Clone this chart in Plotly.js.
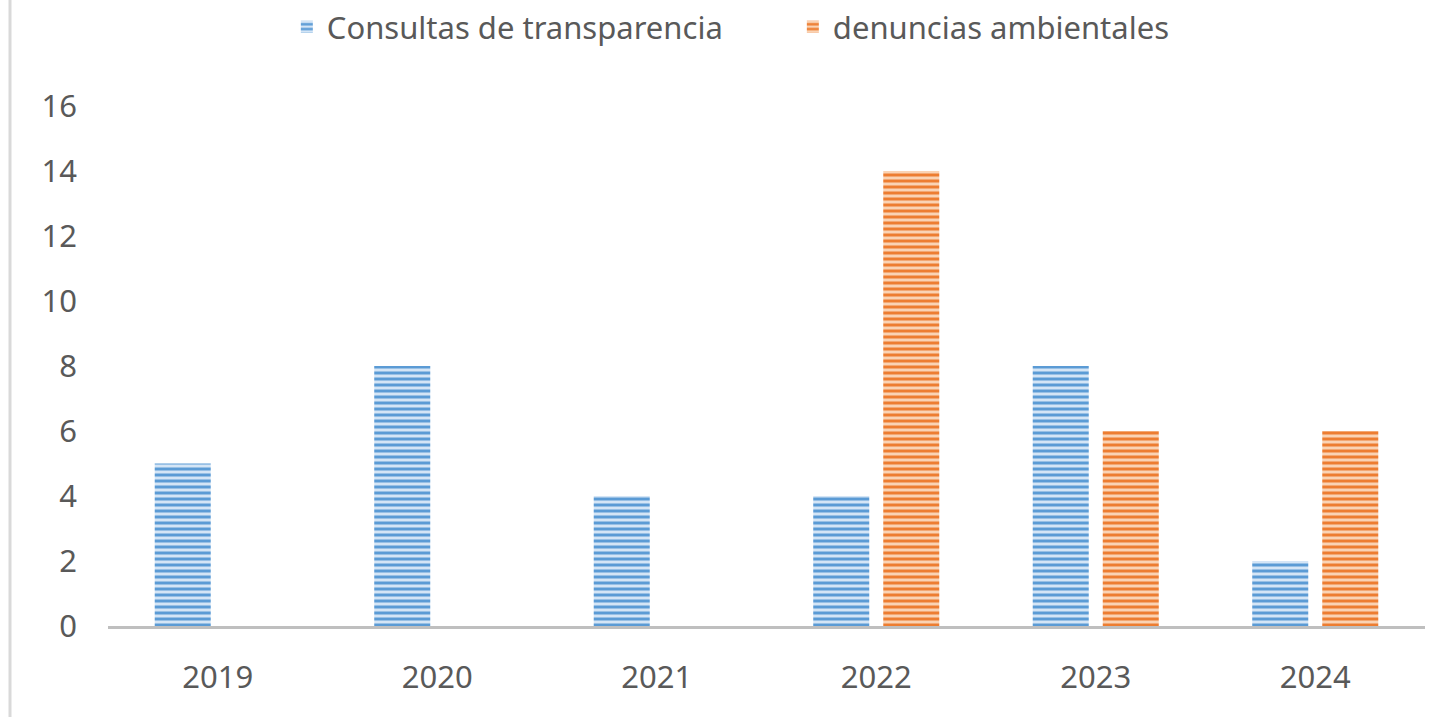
<!DOCTYPE html>
<html>
<head>
<meta charset="utf-8">
<script src="https://cdn.plot.ly/plotly-3.0.1.min.js"></script>
<style>
html,body{margin:0;padding:0;background:#fff;}
#chart{width:1456px;height:717px;}
</style>
</head>
<body>
<div id="chart"></div>
<script>
var years = ['2019','2020','2021','2022','2023','2024'];
var consultas = [5, 8, 4, 4, 8, 2];
var denuncias = [0, 0, 0, 14, 6, 6];
var yTicks = [0, 2, 4, 6, 8, 10, 12, 14, 16];

var traces = [
  {
    type: 'bar', name: 'Consultas de transparencia', x: years, y: consultas,
    marker: {
      color: '#c9def3',
      line: {width: 0},
      pattern: {shape: '-', fgcolor: '#5b9bd5', bgcolor: '#d4e5f6', size: 6, solidity: 0.5}
    },
    hoverinfo: 'x+y'
  },
  {
    type: 'bar', name: 'denuncias ambientales', x: years, y: denuncias,
    marker: {
      color: '#f8cba6',
      line: {width: 0},
      pattern: {shape: '-', fgcolor: '#ed7d31', bgcolor: '#fad3b4', size: 6, solidity: 0.5}
    },
    hoverinfo: 'x+y'
  }
];

var layout = {
  width: 1456, height: 717,
  margin: {l: 108, r: 31, t: 106, b: 91, autoexpand: false},
  paper_bgcolor: '#ffffff', plot_bgcolor: '#ffffff',
  font: {family: 'Noto Sans, Open Sans, sans-serif', color: '#595959', size: 31},
  barmode: 'group', bargap: 0.362, bargroupgap: 0.2,
  showlegend: true,
  legend: {orientation: 'h', x: 0.520, xanchor: 'center', y: 1 + 79 / 520, yanchor: 'middle',
           font: {size: 31, color: '#595959'}, entrywidth: 461, entrywidthmode: 'pixels',
           bgcolor: 'rgba(0,0,0,0)'},
  xaxis: {
    showline: true, linecolor: '#bfbfbf', linewidth: 3, ticks: '', showgrid: false,
    tickfont: {size: 31, color: '#595959'}, ticklabelstandoff: 22, fixedrange: true
  },
  yaxis: {
    range: [0, 16], tickvals: yTicks, ticktext: yTicks.map(String),
    showgrid: false, zeroline: false, showline: false, ticks: '',
    tickfont: {size: 31, color: '#595959'}, ticklabelstandoff: 30, fixedrange: true
  },
  shapes: [
    {type: 'line', xref: 'paper', yref: 'paper',
     x0: (10 - 108) / 1317, x1: (10 - 108) / 1317, y0: -91 / 520, y1: 1 + 106 / 520,
     line: {color: '#d9d9d9', width: 3}}
  ]
};

Plotly.newPlot('chart', traces, layout, {displayModeBar: false, staticPlot: true});
</script>
</body>
</html>
